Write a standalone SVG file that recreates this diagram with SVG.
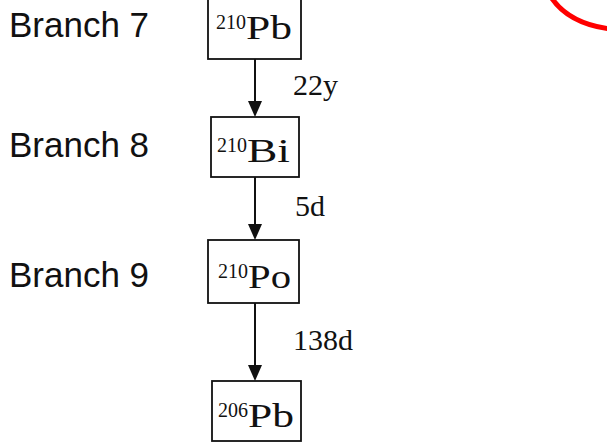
<svg xmlns="http://www.w3.org/2000/svg" width="607" height="443" viewBox="0 0 607 443">
<style>
.lbl{font-family:"Liberation Sans",Arial,sans-serif;font-size:35px;fill:#111}
.box{fill:#fff;stroke:#111;stroke-width:1.8}
.nuc{font-family:"Liberation Serif","Times New Roman",serif;fill:#111}
.sup{font-size:20px}
.sym{font-size:34px}
.t{font-family:"Liberation Serif","Times New Roman",serif;font-size:30px;fill:#111}
.ln{stroke:#111;stroke-width:2;fill:none}
.hd{fill:#111}
</style>
<rect width="607" height="443" fill="#fff"/>
<text class="lbl" x="9" y="37">Branch 7</text>
<text class="lbl" x="9" y="157">Branch 8</text>
<text class="lbl" x="9" y="287">Branch 9</text>
<g id="connectors">
<line class="ln" x1="255" y1="59" x2="255" y2="103"/>
<path class="hd" d="M248,101 L262,101 L255,117 Z"/>
<line class="ln" x1="255" y1="177" x2="255" y2="226"/>
<path class="hd" d="M248,224 L262,224 L255,240 Z"/>
<line class="ln" x1="255" y1="303" x2="255" y2="367"/>
<path class="hd" d="M248,365 L262,365 L255,381 Z"/>
<path d="M257,0 L274,0 L271,7 Z" fill="#111"/>
</g>
<g id="pb210">
<rect class="box" x="208" y="-10" width="93" height="69"/>
<text class="nuc" x="216" y="39"><tspan class="sup" dy="-10">210</tspan><tspan class="sym" dy="10" textLength="46" lengthAdjust="spacingAndGlyphs">Pb</tspan></text>
</g>
<g id="bi210">
<rect class="box" x="211" y="117" width="88" height="60"/>
<text class="nuc" x="217" y="162"><tspan class="sup" dy="-10">210</tspan><tspan class="sym" dy="10" textLength="43" lengthAdjust="spacingAndGlyphs">Bi</tspan></text>
</g>
<g id="po210">
<rect class="box" x="208" y="240" width="91" height="63"/>
<text class="nuc" x="218" y="288"><tspan class="sup" dy="-10">210</tspan><tspan class="sym" dy="10" textLength="43" lengthAdjust="spacingAndGlyphs">Po</tspan></text>
</g>
<g id="pb206">
<rect class="box" x="212" y="381" width="89" height="60"/>
<text class="nuc" x="218" y="427"><tspan class="sup" dy="-10">206</tspan><tspan class="sym" dy="10" textLength="46" lengthAdjust="spacingAndGlyphs">Pb</tspan></text>
</g>
<text class="t" x="293" y="95">22y</text>
<text class="t" x="295" y="216">5d</text>
<text class="t" x="293" y="350">138d</text>
<path d="M551,-3 C562,14 580,25 610,29" fill="none" stroke="#ff0000" stroke-width="5"/>
</svg>
